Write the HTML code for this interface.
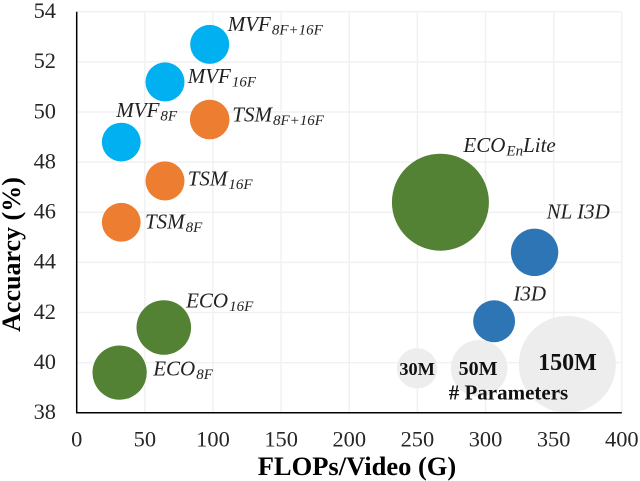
<!DOCTYPE html>
<html lang="en">
<head>
<meta charset="utf-8">
<title>Accuracy vs FLOPs bubble chart</title>
<style>
html,body{margin:0;padding:0;background:#fff;}
#chart{display:block;width:640px;height:481px;font-family:"Liberation Serif",serif;}
</style>
</head>
<body>
<svg id="chart" xmlns="http://www.w3.org/2000/svg" width="640" height="481" viewBox="0 0 640 481"></svg>
<script>
const xTickValues = [0, 50, 100, 150, 200, 250, 300, 350, 400];
const yTickValues = [38, 40, 42, 44, 46, 48, 50, 52, 54];

const mvfNames = ['MVF', 'MVF', 'MVF'];
const mvfSubs = ['8F', '16F', '8F+16F'];
const mvfFlops = [32.7, 64.8, 97.6];
const mvfAccuracy = [48.8, 51.2, 52.7];
const mvfParams = [24, 24.3, 24.3];

const tsmNames = ['TSM', 'TSM', 'TSM'];
const tsmSubs = ['8F', '16F', '8F+16F'];
const tsmFlops = [32.7, 64.8, 97.6];
const tsmAccuracy = [45.6, 47.25, 49.7];
const tsmParams = [24, 24.3, 25];

const ecoFlops = [31.5, 63.9, 266.9];
const ecoAccuracy = [39.6, 41.4, 46.4];
const ecoParams = [47, 47.5, 150];

const i3dFlops = [306.3, 336];
const i3dAccuracy = [41.65, 44.4];
const i3dParams = [28, 35.8];

const sizeLegendLabels = ['30M', '50M', '150M'];
const sizeLegendFlops = [249.8, 295.3, 360];
const sizeLegendAccuracy = [39.77, 39.77, 39.93];
const sizeLegendParams = [26, 51, 150];

const svg = document.getElementById('chart');
const NS = 'http://www.w3.org/2000/svg';
const plotLeft = 76.7, plotRight = 621.8, plotBottom = 412.7, plotTop = 11.8;

function xScale(v) {
  return plotLeft + (v - 0) / 400 * (plotRight - plotLeft);
}
function yScale(v) {
  return plotBottom - (v - 38) / 16 * (plotBottom - plotTop);
}
function rScale(v) {
  return 3.96 * Math.sqrt(v);
}
function make(tag, attrs, text) {
  const el = document.createElementNS(NS, tag);
  for (const k in attrs) el.setAttribute(k, attrs[k]);
  if (text !== undefined) el.textContent = text;
  svg.appendChild(el);
  return el;
}

function drawGrid() {
  xTickValues.forEach(function (t) {
    if (t === 0) return;
    const el = make('line', {x1: xScale(t), x2: xScale(t), y1: plotTop, y2: plotBottom, stroke: '#f1f1f1', 'stroke-width': 1.5});
    
    
  });
  yTickValues.forEach(function (t) {
    if (t === 38) return;
    const el = make('line', {x1: plotLeft, x2: plotRight, y1: yScale(t), y2: yScale(t), stroke: '#f1f1f1', 'stroke-width': 1.5});
    
    
  });
}

function drawTicks() {
  xTickValues.forEach(function (t) {
    const el = make('text', {x: xScale(t), y: 446.7, 'text-anchor': 'middle', 'font-size': 22.4, fill: '#262626'}, String(t));
    
    
  });
  yTickValues.forEach(function (t) {
    const el = make('text', {x: 56, y: yScale(t) + 6.3, 'text-anchor': 'end', 'font-size': 22.4, fill: '#262626'}, String(t));
    
    
  });
}

function drawBubble(slug, color, flops, accuracy, params) {
  const el = make('circle', {cx: xScale(flops), cy: yScale(accuracy), r: rScale(params), fill: color});
  
  
}

function drawLabel(slug, flops, accuracy, dx, dy, name, sub, suffix) {
  const el = make('text', {x: xScale(flops) + dx, y: yScale(accuracy) + dy, 'font-size': 21, 'font-style': 'italic', fill: '#222'});
  
  
  const a = document.createElementNS(NS, 'tspan');
  a.textContent = name;
  el.appendChild(a);
  if (sub) {
    const b = document.createElementNS(NS, 'tspan');
    b.setAttribute('font-size', '15');
    b.setAttribute('dy', '3.5');
    b.setAttribute('dx', '1');
    b.textContent = sub;
    el.appendChild(b);
  }
  if (suffix) {
    const c = document.createElementNS(NS, 'tspan');
    c.setAttribute('dy', '-3.5');
    c.textContent = suffix;
    el.appendChild(c);
  }
}

drawGrid();

const GREY = '#ededed', BLUE = '#00b0f0', ORANGE = '#ed7d31', GREEN = '#548235', STEEL = '#2e75b6';

sizeLegendLabels.forEach(function (lab, i) {
  drawBubble('size-legend-' + lab, GREY, sizeLegendFlops[i], sizeLegendAccuracy[i], sizeLegendParams[i]);
});
mvfSubs.forEach(function (s, i) {
  drawBubble('mvf-' + s, BLUE, mvfFlops[i], mvfAccuracy[i], mvfParams[i]);
});
tsmSubs.forEach(function (s, i) {
  drawBubble('tsm-' + s, ORANGE, tsmFlops[i], tsmAccuracy[i], tsmParams[i]);
});
drawBubble('eco-8f', GREEN, ecoFlops[0], ecoAccuracy[0], ecoParams[0]);
drawBubble('eco-16f', GREEN, ecoFlops[1], ecoAccuracy[1], ecoParams[1]);
drawBubble('eco-en-lite', GREEN, ecoFlops[2], ecoAccuracy[2], ecoParams[2]);
drawBubble('i3d', STEEL, i3dFlops[0], i3dAccuracy[0], i3dParams[0]);
drawBubble('nl-i3d', STEEL, i3dFlops[1], i3dAccuracy[1], i3dParams[1]);

drawLabel('mvf-8f', mvfFlops[0], mvfAccuracy[0], -5, -25, mvfNames[0], mvfSubs[0]);
drawLabel('mvf-16f', mvfFlops[1], mvfAccuracy[1], 22.7, 1, mvfNames[1], mvfSubs[1]);
drawLabel('mvf-8f-16f', mvfFlops[2], mvfAccuracy[2], 18, -13.3, mvfNames[2], mvfSubs[2]);
drawLabel('tsm-8f', tsmFlops[0], tsmAccuracy[0], 23.7, 6, tsmNames[0], tsmSubs[0]);
drawLabel('tsm-16f', tsmFlops[1], tsmAccuracy[1], 22.7, 4.7, tsmNames[1], tsmSubs[1]);
drawLabel('tsm-8f-16f', tsmFlops[2], tsmAccuracy[2], 22.6, 2, tsmNames[2], tsmSubs[2]);
drawLabel('eco-8f', ecoFlops[0], ecoAccuracy[0], 33.6, 2.7, 'ECO', '8F');
drawLabel('eco-16f', ecoFlops[1], ecoAccuracy[1], 22.3, -20, 'ECO', '16F');
drawLabel('eco-en-lite', ecoFlops[2], ecoAccuracy[2], 23, -50.3, 'ECO', 'En', 'Lite');
drawLabel('i3d', i3dFlops[0], i3dAccuracy[0], 19.3, -20.6, 'I3D');
drawLabel('nl-i3d', i3dFlops[1], i3dAccuracy[1], 12, -34, 'NL I3D');

function drawSizeText(i, size, dx, baselineOffset) {
  const el = make('text', {x: xScale(sizeLegendFlops[i]) + dx, y: yScale(sizeLegendAccuracy[i]) + baselineOffset, 'text-anchor': 'middle', 'font-size': size, 'font-weight': 'bold', fill: '#111'}, sizeLegendLabels[i]);
  
  
}
drawSizeText(0, 18.3, 0, 6.7);
drawSizeText(1, 20, -1, 6.7);
drawSizeText(2, 24, 0.2, 5.7);

const paramsTitle = make('text', {x: 448.7, y: 399.3, 'font-size': 21, 'font-weight': 'bold', fill: '#111'}, '# Parameters');



const yAxisLine = make('line', {x1: plotLeft, x2: plotLeft, y1: plotTop, y2: plotBottom + 0.7, stroke: '#000', 'stroke-width': 1.5});


const xAxisLine = make('line', {x1: plotLeft, x2: plotRight, y1: plotBottom, y2: plotBottom, stroke: '#000', 'stroke-width': 1.5});



drawTicks();

const xTitle = make('text', {x: 357, y: 475, 'text-anchor': 'middle', 'font-size': 26.5, 'font-weight': 'bold', fill: '#000'}, 'FLOPs/Video (G)');


const yTitle = make('text', {x: 0, y: 0, transform: 'translate(20 254.5) rotate(-90)', 'text-anchor': 'middle', 'font-size': 26, 'font-weight': 'bold', fill: '#000'}, 'Accuarcy (%)');


</script>
</body>
</html>
